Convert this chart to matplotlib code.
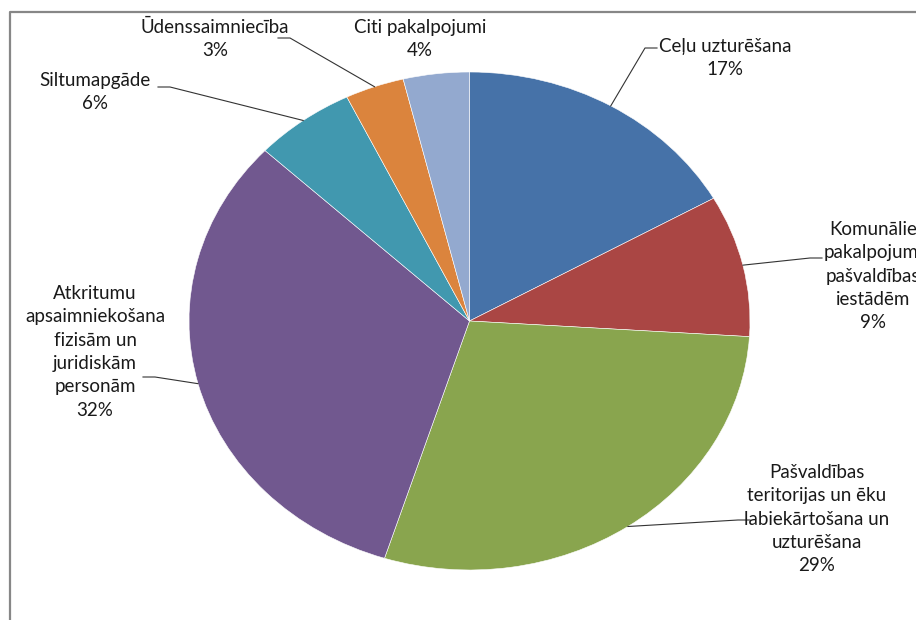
import numpy as np
import matplotlib.pyplot as plt
from matplotlib.lines import Line2D

# Data (shares, %)
categories = ['Ceļu uzturēšana',
              'Komunālie\npakalpojumi\npašvaldības\niestādēm',
              'Pašvaldības\nteritorijas un ēku\nlabiekārtošana un\nuzturēšana',
              'Atkritumu\napsaimniekošana\nfizisām un\njuridiskām\npersonām',
              'Siltumapgāde',
              'Ūdenssaimniecība',
              'Citi pakalpojumi']
shares = [16.8, 9.2, 28.9, 32.1, 5.8, 3.4, 3.8]
colors = ['#4672A8', '#AA4644', '#89A54E', '#71588F', '#4198AF', '#DB843D', '#93A9CF']

W, H = 916, 620
fig = plt.figure(figsize=(W / 100, H / 100), dpi=100)

# pie box in pixels (left, top, right, bottom) - slightly elliptical like Excel
px0, py0, px1, py1 = 189, 72, 750, 570
ax = fig.add_axes([px0 / W, 1 - py1 / H, (px1 - px0) / W, (py1 - py0) / H])
wedges, _ = ax.pie(shares, colors=colors, startangle=90, counterclock=False,
                   wedgeprops=dict(edgecolor='white', linewidth=0.4))
ax.set_xlim(-1, 1)
ax.set_ylim(-1, 1)
ax.set_aspect('auto')

cx, cy = (px0 + px1) / 2, (py0 + py1) / 2
rx, ry = (px1 - px0) / 2, (py1 - py0) / 2

# overlay in pixel coords for labels, leaders and frame
ov = fig.add_axes([0, 0, 1, 1], facecolor='none')
ov.set_xlim(0, W)
ov.set_ylim(H, 0)
ov.axis('off')

ov.add_line(Line2D([10, 10, W], [H, 12, 12], color='#878787', lw=1.6))

# label centre (x, y of first line) and leader end point
label_pos = [(725, 46), (873, 229), (817, 472), (95, 293), (95, 80), (215, 27), (420, 27)]
leader_end = [(645, 48), (810, 258), (738, 520), (155, 377), (170, 87), (290, 38), None]
pcts = [int(round(s)) for s in shares]

for w, name, pct, (lx, ly), end in zip(wedges, categories, pcts, label_pos, leader_end):
    ov.text(lx, ly - 8, name + '\n' + str(pct) + '%', ha='center', va='top',
            fontsize=13.5, family='Lato', color='#1a1a1a', linespacing=1.45)
    if end is not None:
        mid = np.deg2rad((w.theta1 + w.theta2) / 2)
        sx = cx + rx * np.cos(mid)
        sy = cy - ry * np.sin(mid)
        ex, ey = end
        if ex > sx:
            xs, ys = [sx, ex, ex + 12], [sy, ey, ey]
        else:
            xs, ys = [sx, ex, ex - 12], [sy, ey, ey]
        ov.add_line(Line2D(xs, ys, color='#333333', lw=0.8))

fig.savefig('out.png', dpi=100)
